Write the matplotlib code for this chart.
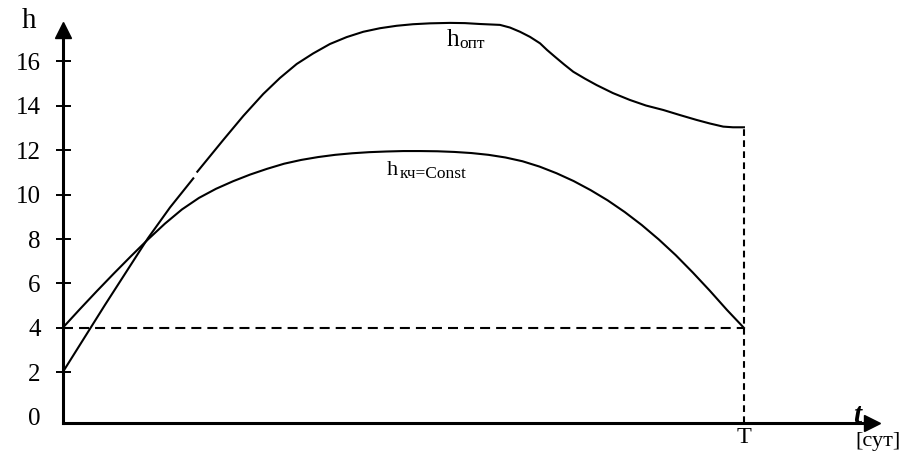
import matplotlib.pyplot as plt

plt.rcParams['font.family'] = ['Liberation Serif', 'DejaVu Serif']

# t as % of the period T (T = 100), h
T = 100
h_start = 4

# h_опт, drawn in two pieces (small break in the original)
t_opt_1 = [0, 6.2, 12.5, 15.75, 19.17]
h_opt_1 = [2.0, 5.03, 8.03, 9.42, 10.73]
t_opt_2 = [19.76, 23.57, 26.51, 29.44, 31.89, 34.35, 36.74, 39.23, 41.68, 44.12,
           46.57, 49.02, 51.42, 53.91, 56.85, 59.05, 61.25, 64.19, 65.66, 67.13,
           68.6, 70.07, 71.1, 72.28, 73.6, 74.95, 76.66, 78.38, 80.77, 83.26,
           85.62, 88.15, 90.61, 93.06, 95.01, 96.96, 98.39, 100]
h_opt_2 = [11.03, 12.46, 13.54, 14.53, 15.25, 15.88, 16.35, 16.78, 17.09, 17.33,
           17.49, 17.60, 17.67, 17.71, 17.73, 17.72, 17.68, 17.64, 17.52, 17.33,
           17.10, 16.81, 16.51, 16.20, 15.86, 15.53, 15.22, 14.93, 14.57, 14.26,
           14.01, 13.81, 13.58, 13.36, 13.20, 13.06, 13.03, 13.03]

# h_кч=Const
t_kch = [0, 2.5, 5, 7.5, 10, 12.5, 15, 17.5, 20, 22.5, 25, 27.5, 30, 32.5, 35,
         37.5, 40, 42.5, 45, 47.5, 50, 52.5, 55, 57.5, 60, 62.5, 65, 67.5, 70,
         72.5, 75, 77.5, 80, 82.5, 85, 87.5, 90, 92.5, 95, 97.5, 100]
h_kch = [4.0, 4.835, 5.65, 6.445, 7.22, 7.975, 8.69, 9.33, 9.85, 10.26, 10.6,
         10.9, 11.16, 11.39, 11.56, 11.69, 11.79, 11.86, 11.91, 11.94, 11.96,
         11.96, 11.95, 11.92, 11.87, 11.79, 11.67, 11.5, 11.26, 10.96, 10.61,
         10.2, 9.74, 9.215, 8.63, 7.98, 7.27, 6.49, 5.67, 4.81, 4.0]

y_ticks = [0, 2, 4, 6, 8, 10, 12, 14, 16]

W, H = 913, 459
fig = plt.figure(figsize=(W / 100, H / 100), dpi=100)
ax = fig.add_axes([62.7 / W, (H - 422.7) / H, (872 - 62.7) / W, (422.7 - 30) / H])
ymin = -0.27
ax.set_xlim(0, 118.8)
ax.set_ylim(ymin, 17.41)

for s in ['top', 'right']:
    ax.spines[s].set_visible(False)
for s in ['left', 'bottom']:
    ax.spines[s].set_linewidth(2.2)
ax.plot(0, 1, '^k', ms=11, transform=ax.transAxes, clip_on=False)
ax.plot(1, 0, '>k', ms=11, transform=ax.transAxes, clip_on=False)

ax.set_yticks(y_ticks)
ax.tick_params(axis='y', direction='inout', length=10.8, width=1.4, labelsize=18, pad=10.5)
ax.yaxis.get_major_ticks()[0].tick1line.set_visible(False)
ax.set_xticks([T], ['T'])
ax.tick_params(axis='x', length=0, labelsize=17.5, pad=3)

ax.plot(t_opt_1, h_opt_1, 'k', lw=1.5, clip_on=False, solid_joinstyle='round')
ax.plot(t_opt_2, h_opt_2, 'k', lw=1.5, clip_on=False, solid_joinstyle='round')
ax.plot(t_kch, h_kch, 'k', lw=1.5, clip_on=False, solid_joinstyle='round')

ax.plot([0, T], [h_start, h_start], 'k', lw=1.5, dashes=(4.8, 2.9))
ax.plot([T, T], [ymin, h_opt_2[-1]], 'k', lw=1.5, dashes=(3.2, 2.1))

ax.text(56.4, 16.69, 'h', fontsize=18, va='baseline')
ax.text(58.3, 16.62, 'опт', fontsize=12.5, va='baseline')
ax.text(47.56, 10.88, 'h', fontsize=16, va='baseline')
ax.text(49.5, 10.73, 'кч=Const', fontsize=12.5, va='baseline')

fig.text(29 / W, 1 - 28 / H, 'h', fontsize=21, ha='center', va='baseline')
fig.text(853 / W, 1 - 423 / H, 't', fontsize=21, fontweight='bold', style='italic', va='baseline')
fig.text(855 / W, 1 - 432 / H, '[сут]', fontsize=16, va='top')

fig.savefig('out.png', dpi=100)
